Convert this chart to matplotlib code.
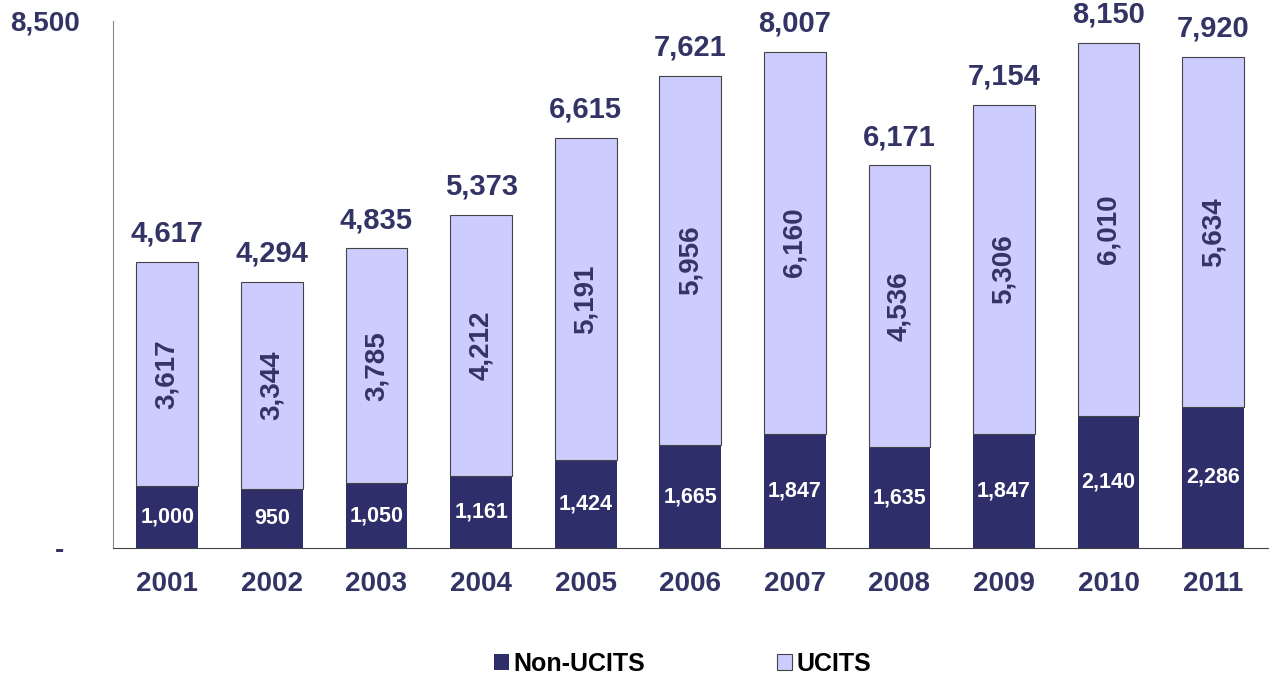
import matplotlib.pyplot as plt
import numpy as np

years = ["2001", "2002", "2003", "2004", "2005", "2006", "2007", "2008", "2009", "2010", "2011"]
non_ucits = [1000, 950, 1050, 1161, 1424, 1665, 1847, 1635, 1847, 2140, 2286]
ucits = [3617, 3344, 3785, 4212, 5191, 5956, 6160, 4536, 5306, 6010, 5634]
totals = [4617, 4294, 4835, 5373, 6615, 7621, 8007, 6171, 7154, 8150, 7920]

dark = "#2e2e6b"
light = "#ccccff"
txt = "#333366"

plt.rcParams['font.family'] = ['Liberation Sans', 'DejaVu Sans']
fig = plt.figure(figsize=(12.83, 6.77), dpi=100)
ax = fig.add_axes([0.088, 0.19, 0.9, 0.779])

x = np.arange(len(years))
w = 0.59
ax.bar(x, non_ucits, w, color=dark, label="Non-UCITS", zorder=2)
ax.bar(x, ucits, w, bottom=non_ucits, color=light, edgecolor="#444444", linewidth=0.8,
       label="UCITS", zorder=2)

for i in range(len(years)):
    ax.text(x[i], non_ucits[i] / 2, f"{non_ucits[i]:,}", ha="center", va="center",
            color="white", fontsize=15.5, fontweight="bold")
    ax.text(x[i], non_ucits[i] + ucits[i] / 2, f"{ucits[i]:,}", ha="center", va="center",
            rotation=90, color=txt, fontsize=20, fontweight="bold")
    ax.text(x[i], totals[i] + 230, f"{totals[i]:,}", ha="center", va="bottom",
            color=txt, fontsize=21, fontweight="bold")

ax.set_xlim(-0.52, 10.52)
ax.set_ylim(0, 8500)
ax.set_xticks(x)
ax.set_xticklabels(years, fontsize=20, fontweight="bold", color=txt)
ax.set_yticks([0, 8500])
ax.set_yticklabels(["-  ", "8,500"], fontsize=20, fontweight="bold", color=txt)
ax.tick_params(length=0)
ax.tick_params(axis="x", pad=16)
ax.tick_params(axis="y", pad=24)
ax.spines["top"].set_visible(False)
ax.spines["right"].set_visible(False)
ax.spines["left"].set_color("#888888")
ax.spines["bottom"].set_color("#444444")

fig.legend(loc="center", bbox_to_anchor=(0.532, 0.019), ncol=2, frameon=False,
           prop={"size": 18, "weight": "bold"}, handlelength=0.6, handleheight=0.6,
           handletextpad=0.2, columnspacing=5.25)

fig.savefig("out.png", dpi=100)
